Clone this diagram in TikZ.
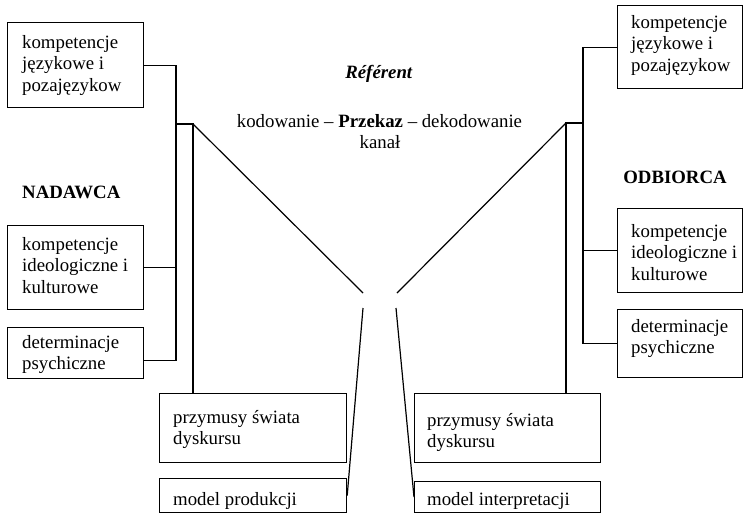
\documentclass[tikz,border=0pt]{standalone}
\usepackage{fontspec}
\setmainfont{Liberation Serif}
\begin{document}
\begin{tikzpicture}[x=1pt,y=-1pt,
  box/.style={draw, line width=1.2pt, inner sep=0pt, anchor=north west},
  txt/.style={inner sep=0pt, anchor=north west, align=left, font=\fontsize{18.8pt}{21.5pt}\selectfont},
  lbl/.style={inner sep=0pt, font=\fontsize{18.8pt}{21.5pt}\selectfont},
  ln/.style={line width=1.2pt}]
\useasboundingbox (0,0) rectangle (744,515);

% left boxes
\node[box, minimum width=136pt, minimum height=85pt] (L1) at (7,22) {};
\node[box, minimum width=136pt, minimum height=84pt] (L2) at (7,225) {};
\node[box, minimum width=136pt, minimum height=51pt] (L3) at (7,327) {};
\node[box, minimum width=187pt, minimum height=69pt] (LB1) at (159,393) {};
\node[box, minimum width=187pt, minimum height=34pt] (LB2) at (159,478) {};
% right boxes
\node[box, minimum width=125pt, minimum height=83pt] (R1) at (617,5) {};
\node[box, minimum width=125pt, minimum height=84pt] (R2) at (617,208) {};
\node[box, minimum width=125pt, minimum height=68pt] (R3) at (617,309) {};
\node[box, minimum width=186pt, minimum height=69pt] (RB1) at (414,393) {};
\node[box, minimum width=186pt, minimum height=31pt] (RB2) at (414,481) {};

% texts
\node[txt] (tL1) at (22,33) {\strut kompetencje\\językowe i\\pozajęzykow};
\node[txt] (tL2) at (22,235) {\strut kompetencje\\ideologiczne i\\kulturowe};
\node[txt] (tL3) at (22,333) {\strut determinacje\\psychiczne};
\node[txt] (tLB1) at (173,408) {\strut przymusy świata\\dyskursu};
\node[txt] (tLB2) at (173,490) {\strut model produkcji};
\node[txt] (tR1) at (631,13) {\strut kompetencje\\językowe i\\pozajęzykow};
\node[txt] (tR2) at (631,222) {\strut kompetencje\\ideologiczne i\\kulturowe};
\node[txt] (tR3) at (631,317) {\strut determinacje\\psychiczne};
\node[txt] (tRB1) at (427,411) {\strut przymusy świata\\dyskursu};
\node[txt] (tRB2) at (427,490) {\strut model interpretacji};

\node[lbl, anchor=base] (ref) at (379,78) {\textbf{\textit{Référent}}};
\node[lbl, anchor=base] (prz) at (379.5,127) {kodowanie – \textbf{Przekaz} – dekodowanie};
\node[lbl, anchor=base] (kan) at (380,148) {kanał};
\node[lbl, anchor=base west] (nad) at (22,198) {\textbf{NADAWCA}};
\node[lbl, anchor=base] (odb) at (675,183) {\textbf{ODBIORCA}};

% connectors left
\coordinate (bL) at (176,124);
\coordinate (jL) at (193,124);
\coordinate (cL) at (363,293);
\coordinate (dL) at (363,308);
\coordinate (L3c) at ([yshift=-7.5pt]L3.east);
\draw[ln] (L1.east) -- (L1.east -| bL) -- (L3c -| bL) -- (L3c);
\draw[ln] (L2.east) -- (L2.east -| bL);
\draw[ln] (bL) -- (jL) -- (jL |- LB1.north);
\draw[ln] (jL) -- (cL);
\draw[ln] (dL) -- (LB2.east);

% connectors right
\coordinate (bR) at (583,123);
\coordinate (jR) at (566,123);
\coordinate (cR) at (397,293);
\coordinate (dR) at (396,308);
\draw[ln] (R1.west) -- (R1.west -| bR) -- (R3.west -| bR) -- (R3.west);
\draw[ln] (R2.west) -- (R2.west -| bR);
\draw[ln] (bR) -- (jR) -- (jR |- RB1.north);
\draw[ln] (jR) -- (cR);
\draw[ln] (dR) -- (RB2.west);
\end{tikzpicture}
\end{document}
